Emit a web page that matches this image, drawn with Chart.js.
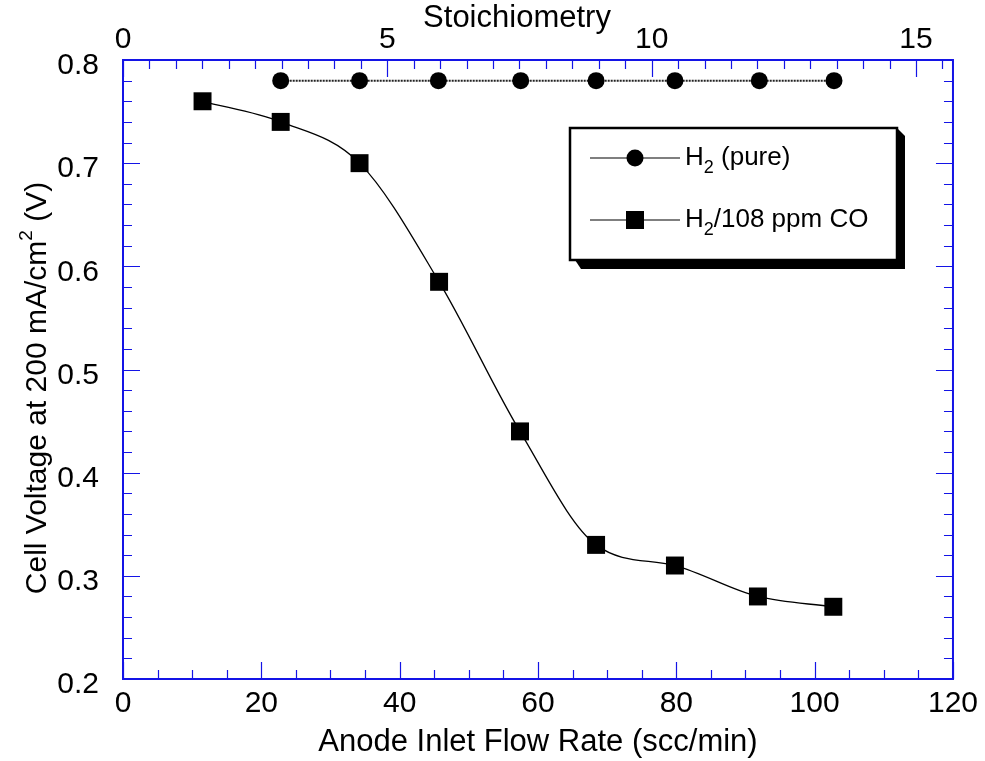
<!DOCTYPE html>
<html>
<head>
<meta charset="utf-8">
<script src="https://cdn.jsdelivr.net/npm/chart.js@4.4.1/dist/chart.umd.min.js"></script>
<style>
  html, body { margin: 0; padding: 0; background: #fff; }
  #wrap { width: 985px; height: 761px; }
</style>
</head>
<body>
<div id="wrap"><canvas id="chartFlow" width="985" height="761"></canvas></div>
<script>
// anode inlet flow (scc/min) vs cell voltage at 200 mA/cm2
const flowPure = [22.8, 34.2, 45.6, 57.5, 68.4, 79.8, 92.0, 102.8];
const voltPure = [0.78, 0.78, 0.78, 0.78, 0.78, 0.78, 0.78, 0.78];
const flowCO = [11.5, 22.8, 34.2, 45.7, 57.4, 68.4, 79.8, 91.8, 102.7];
const voltCO = [0.76, 0.74, 0.70, 0.585, 0.44, 0.33, 0.31, 0.28, 0.27];

const flowTicks = [0, 20, 40, 60, 80, 100, 120];
const stoichTicks = [0, 5, 10, 15];
const voltTicks = [0.2, 0.3, 0.4, 0.5, 0.6, 0.7, 0.8];
const stoichMax = 15.7; // top axis runs to ~15.7 at 120 scc/min

const axisBlue = '#1414e6';
const fontFam = '"Liberation Sans", Arial, Helvetica, sans-serif';
const tickFont = { family: fontFam, size: 30 };
const titleFont = { family: fontFam, size: 31 };

// inward tick marks on all four sides (KaleidaGraph style)
const frameTicks = {
  id: 'frameTicks',
  beforeDatasetsDraw(chart) {
    const { ctx, chartArea: a, scales } = chart;
    const x = scales.x, x2 = scales.x2, y = scales.y;
    ctx.save();
    ctx.strokeStyle = axisBlue;
    ctx.lineWidth = 1.2;
    ctx.beginPath();
    // bottom: minor every 5, major every 20
    for (let i = 0; i <= 24; i++) {
      const v = i * 5;
      const px = Math.round(x.getPixelForValue(v)) + 0.5;
      const len = v % 20 === 0 ? 17 : 9;
      ctx.moveTo(px, a.bottom);
      ctx.lineTo(px, a.bottom - len);
    }
    // top: minor every 0.5, major every 5
    for (let i = 0; i * 0.5 <= stoichMax; i++) {
      const px = Math.round(x2.getPixelForValue(i * 0.5)) + 0.5;
      const len = i % 10 === 0 ? 17 : 9;
      ctx.moveTo(px, a.top);
      ctx.lineTo(px, a.top + len);
    }
    // left + right: minor every 0.02, major every 0.1
    for (let i = 0; i <= 30; i++) {
      const py = Math.round(y.getPixelForValue(0.2 + i * 0.02)) + 0.5;
      const len = i % 5 === 0 ? 17 : 9;
      ctx.moveTo(a.left, py);
      ctx.lineTo(a.left + len, py);
      ctx.moveTo(a.right, py);
      ctx.lineTo(a.right - len, py);
    }
    ctx.stroke();
    ctx.lineWidth = 2;
    ctx.strokeRect(a.left, a.top, a.right - a.left, a.bottom - a.top);

    // top axis title sits a bit left of centre in the original
    ctx.fillStyle = '#000';
    ctx.font = titleFont.size + 'px ' + fontFam;
    ctx.textAlign = 'center';
    ctx.textBaseline = 'middle';
    ctx.fillText('Stoichiometry', (a.left + a.right) / 2 - 21, 18);

    // y title with a real superscript 2
    const parts = [
      { t: 'Cell Voltage at 200 mA/cm', size: 30, dy: 0 },
      { t: '2', size: 19, dy: -11 },
      { t: ' (V)', size: 30, dy: 0 }
    ];
    let total = 0;
    parts.forEach(p => { ctx.font = p.size + 'px ' + fontFam; p.w = ctx.measureText(p.t).width; total += p.w; });
    ctx.translate(38, 388);
    ctx.rotate(-Math.PI / 2);
    ctx.textAlign = 'left';
    let tx = -total / 2;
    parts.forEach(p => {
      ctx.font = p.size + 'px ' + fontFam;
      ctx.fillText(p.t, tx, p.dy);
      tx += p.w;
    });
    ctx.restore();
  }
};

// boxed legend with drop shadow, subscripted H2
const legendBox = {
  id: 'legendBox',
  afterDatasetsDraw(chart) {
    const ctx = chart.ctx;
    const bx = 570, by = 128, bw = 327, bh = 132;
    ctx.save();
    ctx.fillStyle = '#000';
    ctx.beginPath();
    ctx.moveTo(bx + 5, by + bh);
    ctx.lineTo(bx + 11, by + bh + 9);
    ctx.lineTo(bx + bw + 8, by + bh + 9);
    ctx.lineTo(bx + bw + 8, by + 8);
    ctx.lineTo(bx + bw, by);
    ctx.closePath();
    ctx.fill();
    ctx.fillStyle = '#fff';
    ctx.fillRect(bx, by, bw, bh);
    ctx.strokeStyle = '#000';
    ctx.lineWidth = 2.5;
    ctx.strokeRect(bx, by, bw, bh);

    const rows = [
      { y: by + 30, style: 'circle', rest: ' (pure)' },
      { y: by + 92, style: 'rect', rest: '/108 ppm CO' }
    ];
    rows.forEach(r => {
      ctx.strokeStyle = '#000';
      ctx.lineWidth = 1.2;
      ctx.beginPath();
      ctx.moveTo(bx + 20, r.y);
      ctx.lineTo(bx + 110, r.y);
      ctx.stroke();
      ctx.fillStyle = '#000';
      if (r.style === 'circle') {
        ctx.beginPath();
        ctx.arc(bx + 65, r.y, 8.5, 0, Math.PI * 2);
        ctx.fill();
      } else {
        ctx.fillRect(bx + 56, r.y - 9, 18, 18);
      }
      let tx = bx + 115;
      ctx.textBaseline = 'middle';
      ctx.font = '26px ' + fontFam;
      ctx.fillText('H', tx, r.y);
      tx += ctx.measureText('H').width;
      ctx.font = '18px ' + fontFam;
      ctx.fillText('2', tx, r.y + 10);
      tx += ctx.measureText('2').width;
      ctx.font = '26px ' + fontFam;
      ctx.fillText(r.rest, tx, r.y);
    });
    ctx.restore();
  }
};

const configFlow = {
  type: 'scatter',
  data: {
    datasets: [
      {
        label: 'H2 (pure)',
        data: flowPure.map((f, i) => ({ x: f, y: voltPure[i] })),
        showLine: true,
        borderColor: '#222',
        borderWidth: 2,
        borderDash: [2, 1],
        pointStyle: 'circle',
        pointRadius: 8.5,
        pointBackgroundColor: '#000',
        pointBorderColor: '#000',
        pointBorderWidth: 0,
        xAxisID: 'x',
        yAxisID: 'y'
      },
      {
        label: 'H2/108 ppm CO',
        data: flowCO.map((f, i) => ({ x: f, y: voltCO[i] })),
        showLine: true,
        cubicInterpolationMode: 'monotone',
        borderColor: '#000',
        borderWidth: 1.3,
        pointStyle: 'rect',
        pointRadius: 12.7,
        pointBackgroundColor: '#000',
        pointBorderColor: '#000',
        pointBorderWidth: 0,
        xAxisID: 'x',
        yAxisID: 'y'
      }
    ]
  },
  options: {
    responsive: false,
    animation: false,
    layout: { padding: { left: 0, right: 30, top: 0, bottom: 0 } },
    plugins: {
      legend: { display: false },
      tooltip: { enabled: false }
    },
    scales: {
      x: {
        type: 'linear',
        position: 'bottom',
        min: 0,
        max: 120,
        afterBuildTicks: s => { s.ticks = flowTicks.map(v => ({ value: v })); },
        afterFit: s => { s.height = 82; },
        grid: { display: false, drawTicks: false },
        border: { display: false },
        ticks: { color: '#000', font: tickFont, padding: 7, maxRotation: 0, autoSkip: false },
        title: { display: true, text: 'Anode Inlet Flow Rate (scc/min)', color: '#000', font: titleFont, padding: { top: 0, bottom: 0 } }
      },
      x2: {
        type: 'linear',
        position: 'top',
        min: 0,
        max: stoichMax,
        afterBuildTicks: s => { s.ticks = stoichTicks.map(v => ({ value: v })); },
        afterFit: s => { s.height = 60; },
        grid: { display: false, drawTicks: false },
        border: { display: false },
        ticks: { color: '#000', font: tickFont, padding: 2, maxRotation: 0, autoSkip: false },
        title: { display: false }
      },
      y: {
        type: 'linear',
        position: 'left',
        min: 0.2,
        max: 0.8,
        afterBuildTicks: s => { s.ticks = voltTicks.map(v => ({ value: v })); },
        afterFit: s => { s.width = 123; },
        grid: { display: false, drawTicks: false },
        border: { display: false },
        ticks: { color: '#000', font: tickFont, padding: 24, labelOffset: 6, callback: v => v.toFixed(1) },
        title: { display: false }
      }
    }
  },
  plugins: [frameTicks, legendBox]
};

var chartFlow = new Chart(document.getElementById('chartFlow'), configFlow);
</script>
</body>
</html>
